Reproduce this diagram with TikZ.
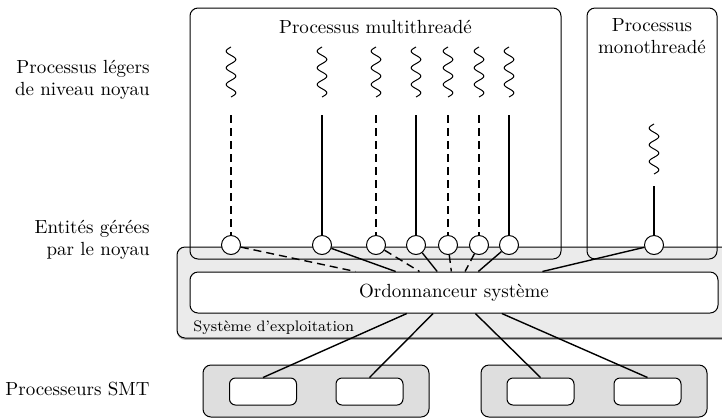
\documentclass[tikz,border=0pt]{standalone}
\usetikzlibrary{positioning,shadows}

\tikzset{
  cadre/.style={draw, rounded corners=4pt, line width=0.5pt, inner sep=0pt},
  osbox/.style={cadre, fill=black!8, minimum width=281.5pt, minimum height=45.5pt,
    drop shadow={shadow xshift=0pt, shadow yshift=-0.9pt, fill=black!60}},
  procbox/.style={cadre, minimum height=125.5pt},
  ordobox/.style={cadre, fill=white, minimum width=264pt, minimum height=20.5pt},
  smtbox/.style={cadre, fill=black!13, minimum width=113pt, minimum height=26pt},
  corebox/.style={cadre, fill=white, rounded corners=3pt, minimum width=33.5pt, minimum height=13.5pt},
  entite/.style={draw, circle, fill=white, line width=0.5pt, minimum size=9.5pt, inner sep=0pt},
  lien/.style={line width=0.7pt},
  lienpt/.style={lien, dash pattern=on 4pt off 2.5pt},
  etiq/.style={align=right, inner sep=0pt},
  fil/.pic={\draw[line width=0.5pt] plot[domain=0:1080, samples=61, smooth] ({-4.8*sin(\x)},{\x/21.6});}
}

\begin{document}
\begin{tikzpicture}[x=0.5pt, y=-0.5pt, font=\fontsize{9.5}{11}\selectfont]
\clip (0,0) rectangle (722,419);

\node[osbox] (os) at (458.5,292.5) {};
\node[anchor=base west, inner sep=0pt, font=\fontsize{7.6}{9}\selectfont] (osnom) at (193,331) {Système d'exploitation};

\node[procbox, minimum width=185.5pt] (multi) at (375.5,133.5) {};
\node[procbox, minimum width=65pt] (mono) at (652,133.5) {};
\node[anchor=base, inner sep=0pt] (multinom) at (375.5,33) {Processus multithreadé};
\node[align=center, inner sep=0pt] (mononom) at (652,36) {Processus\\monothreadé};

\node[etiq, anchor=east] (legers) at (150,80) {Processus légers\\de niveau noyau};
\node[etiq, anchor=east] (entites) at (150,240) {Entités gérées\\par le noyau};
\node[etiq, anchor=base east] (smtnom) at (150,395) {Processeurs SMT};

\foreach \n/\x in {1/231,2/322,3/376,4/416,5/448,6/479,7/509} {
  \pic at (\x,47) {fil};
  \coordinate (f\n) at (\x,115);
  \node[entite] (e\n) at (\x,245) {};
}
\pic at (654,124) {fil};
\coordinate (f8) at (654,186);
\node[entite] (e8) at (654,245) {};

\node[ordobox] (ordo) at (454,292.5) {Ordonnanceur système};

\node[smtbox] (smtA) at (316,391) {};
\node[smtbox] (smtB) at (594,391) {};
\node[corebox] (c1) at (263,391.5) {};
\node[corebox] (c2) at (369.5,391.5) {};
\node[corebox] (c3) at (540.5,391.5) {};
\node[corebox] (c4) at (647.5,391.5) {};

\foreach \n in {1,3,5,6} {
  \draw[lienpt] (f\n) -- (e\n);
  \draw[lienpt] (e\n) -- (ordo);
}
\foreach \n in {2,4,7,8} {
  \draw[lien] (f\n) -- (e\n);
  \draw[lien] (e\n) -- (ordo);
}
\foreach \n in {1,...,4}
  \draw[lien] (ordo) -- (c\n.north);
\end{tikzpicture}
\end{document}
